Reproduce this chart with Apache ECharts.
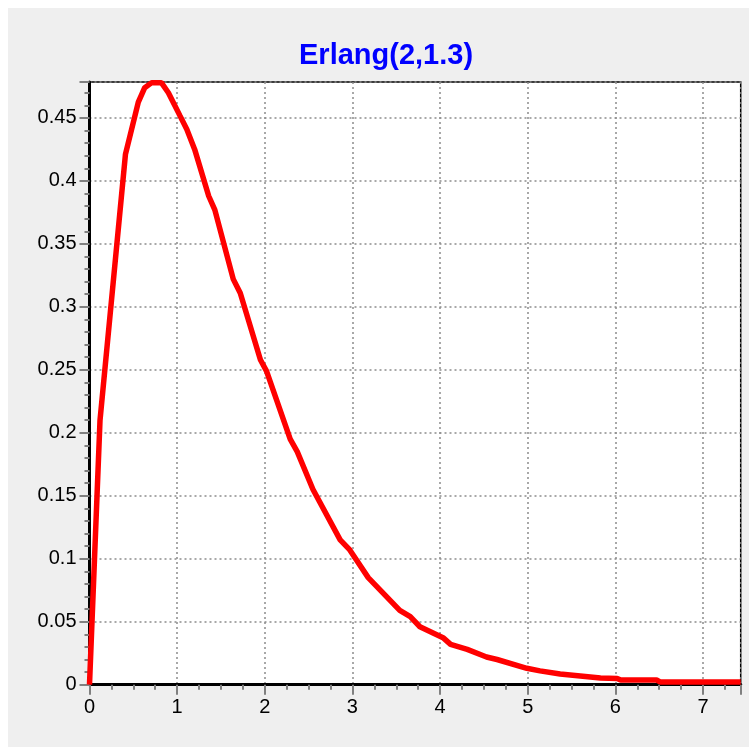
<!DOCTYPE html>
<html>
<head>
<meta charset="utf-8">
<script src="https://cdn.jsdelivr.net/npm/echarts@6/dist/echarts.min.js"></script>
<style>
  html, body { margin: 0; padding: 0; background: #fff; }
  #chart { position: absolute; left: 8px; top: 8px; width: 741px; height: 739px; }
</style>
</head>
<body>
<div id="chart"></div>
<script>
// points
var xValues = [0, 0.12, 0.41, 0.557, 0.63, 0.71, 0.82, 0.9, 1.03, 1.11, 1.2, 1.36, 1.43, 1.64, 1.72,
  1.95, 2.02, 2.29, 2.37, 2.55, 2.86, 2.97, 3.18, 3.54, 3.66, 3.77, 4.04, 4.12, 4.31, 4.53, 4.65,
  4.99, 5.14, 5.37, 5.6, 5.83, 6.02, 6.06, 6.47, 6.51, 7.43];
var yValues = [0, 0.21, 0.421, 0.4625, 0.474, 0.478, 0.478, 0.47, 0.452, 0.441, 0.425, 0.388, 0.377, 0.322, 0.311,
  0.258, 0.249, 0.195, 0.185, 0.155, 0.115, 0.107, 0.085, 0.059, 0.054, 0.046, 0.037, 0.032, 0.028, 0.022, 0.02,
  0.013, 0.011, 0.0085, 0.0069, 0.0053, 0.005, 0.0037, 0.0037, 0.0022, 0.0022];
var titleText = 'Erlang(2,1.3)';
var xMax = 7.43, yMax = 0.4785;

var pts = [];
for (var i = 0; i < xValues.length; i++) {
  pts.push([xValues[i], yValues[i]]);
}

var tickGray = '#808080';
var gridDots = { color: '#8c8c8c', width: 1.5, type: [2, 3] };

var chart = echarts.init(document.getElementById('chart'));
chart.setOption({
  backgroundColor: '#efefef',
  animation: false,
  title: {
    text: titleText,
    left: 286,
    top: 28,
    textStyle: { color: '#0000ff', fontSize: 29, fontWeight: 'bold', fontFamily: 'Liberation Sans' }
  },
  grid: {
    left: 81.5, top: 74, right: 8.3, bottom: 62.3,
    show: true, backgroundColor: '#fff', borderColor: '#000', borderWidth: 1.5
  },
  xAxis: {
    type: 'value', min: 0, max: xMax, interval: 1,
    axisLine: { lineStyle: { color: '#000', width: 3 } },
    axisTick: { length: 10, lineStyle: { color: tickGray, width: 2 } },
    minorTick: { show: true, splitNumber: 4, length: 5, lineStyle: { color: tickGray, width: 2 } },
    splitLine: { lineStyle: gridDots },
    axisLabel: { showMaxLabel: false, color: '#000', fontSize: 20, fontFamily: 'Liberation Sans', margin: 13 }
  },
  yAxis: {
    type: 'value', min: 0, max: yMax, interval: 0.05,
    axisLine: { show: true, lineStyle: { color: '#000', width: 3 } },
    axisTick: { show: true, length: 10, lineStyle: { color: tickGray, width: 2 } },
    minorTick: { show: true, splitNumber: 5, length: 5, lineStyle: { color: tickGray, width: 2 } },
    splitLine: { lineStyle: gridDots },
    axisLabel: { showMaxLabel: false, color: '#000', fontSize: 20, fontFamily: 'Liberation Sans', margin: 13 }
  },
  series: [{
    type: 'line',
    data: pts,
    showSymbol: false,
    lineStyle: { color: '#ff0000', width: 5.5 },
    z: 5
  }]
});
</script>
</body>
</html>
